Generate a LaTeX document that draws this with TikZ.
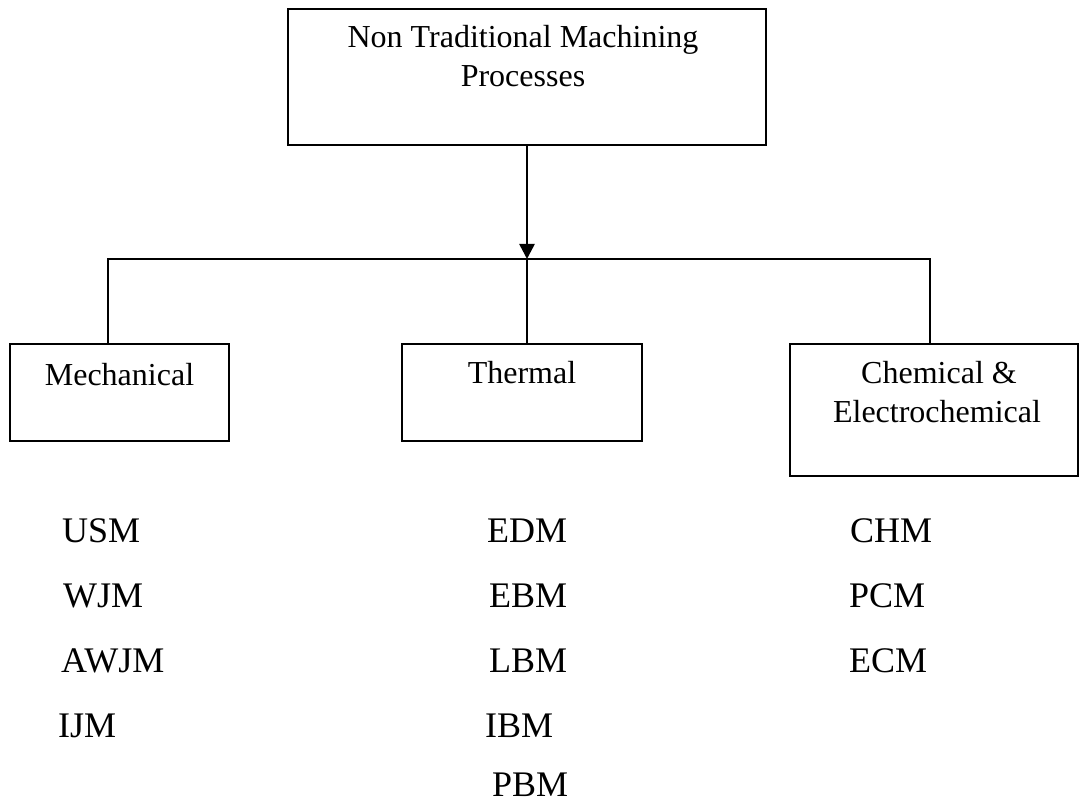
\documentclass[tikz,border=0pt]{standalone}
\usepackage{fontspec}
\setmainfont{Liberation Serif}
\usetikzlibrary{arrows.meta}
\begin{document}
\begin{tikzpicture}[x=1pt,y=-1pt,
  box/.style={draw,line width=2pt,rectangle,inner sep=0pt},
  boxtext/.style={anchor=base,inner sep=0pt,font=\fontsize{32}{39}\selectfont},
  item/.style={anchor=base west,inner sep=0pt,font=\fontsize{36}{43}\selectfont},
  hconn/.style={line width=1.8pt,line cap=rect},
  vconn/.style={line width=2.6pt},
  arr/.style={vconn,-{Triangle[width=15pt,length=15pt]}}]
\useasboundingbox (0,0) rectangle (1080,805);
% boxes
\node[box,minimum width=478pt,minimum height=136pt] (top) at (527,77) {};
\node[boxtext] (t1) at (523,48) {Non Traditional Machining};
\node[boxtext] (t2) at (523,87) {Processes};
\node[box,minimum width=219pt,minimum height=96pt] (mech) at (119.5,392.5) {};
\node[boxtext] (mecht) at (119.5,385) {Mechanical};
\node[box,minimum width=240pt,minimum height=97pt] (therm) at (522,392.5) {};
\node[boxtext] (thermt) at (522,383) {Thermal};
\node[box,minimum width=288pt,minimum height=132pt] (chem) at (934,410) {};
\node[boxtext] (chemt1) at (939,383) {Chemical \&};
\node[boxtext] (chemt2) at (937,422) {Electrochemical};
% connectors
\coordinate (jn) at (527,259);
\coordinate (jl) at (108,259);
\coordinate (jr) at (930,259);
\draw[arr] (top.south) -- (jn);
\draw[hconn] (jl) -- (jr);
\draw[vconn] (jl) -- (jl |- mech.north);
\draw[vconn] (jr) -- (jr |- chem.north);
\draw[vconn] (jn) -- (jn |- therm.north);
% lists
\node[item] (usm) at (62,542) {USM};
\node[item] (wjm) at (63,607) {WJM};
\node[item] (awjm) at (61,672) {AWJM};
\node[item] (ijm) at (58,737) {IJM};
\node[item] (edm) at (487,542) {EDM};
\node[item] (ebm) at (489,607) {EBM};
\node[item] (lbm) at (489,672) {LBM};
\node[item] (ibm) at (485,737) {IBM};
\node[item] (pbm) at (492,796) {PBM};
\node[item] (chm) at (850,542) {CHM};
\node[item] (pcm) at (849,607) {PCM};
\node[item] (ecm) at (849,672) {ECM};
\end{tikzpicture}
\end{document}
